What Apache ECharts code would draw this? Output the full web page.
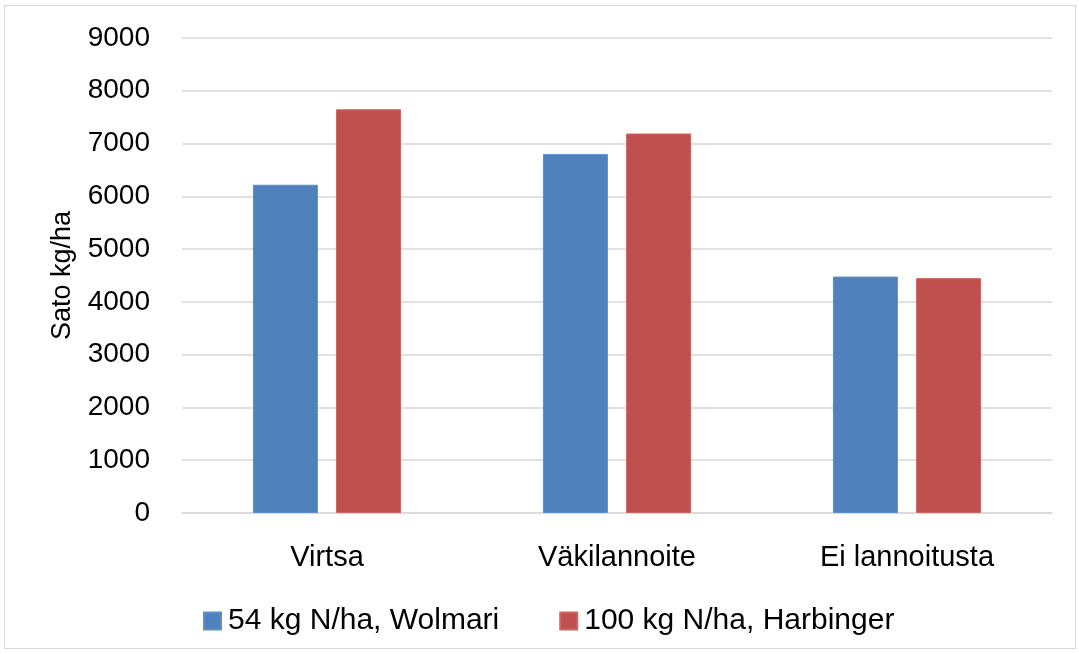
<!DOCTYPE html>
<html>
<head>
<meta charset="utf-8">
<script src="https://cdn.jsdelivr.net/npm/echarts@6/dist/echarts.min.js"></script>
<style>
html,body{margin:0;padding:0;background:#fff;}
#frame{position:absolute;left:4px;top:5px;width:1072px;height:644px;border:1px solid #d9d9d9;box-sizing:border-box;}
#chart{position:absolute;left:0;top:0;width:1079px;height:654px;}
</style>
</head>
<body>
<div id="frame"></div>
<div id="chart"></div>
<script>
const categories = ['Virtsa', 'Väkilannoite', 'Ei lannoitusta'];
const seriesNames = ['54 kg N/ha, Wolmari', '100 kg N/ha, Harbinger'];
const wolmari = [6220, 6800, 4480];
const harbinger = [7650, 7190, 4450];
const yAxisName = 'Sato kg/ha';

const FONT = 'Liberation Sans';
const chart = echarts.init(document.getElementById('chart'), null, {renderer: 'canvas'});
chart.setOption({
  backgroundColor: 'transparent',
  animation: false,
  grid: {left: 182, right: 27, top: 38, bottom: 141},
  legend: {
    data: seriesNames,
    top: 601,
    left: 198,
    icon: 'rect',
    itemWidth: 17,
    itemHeight: 17,
    itemGap: 60,
    textStyle: {fontFamily: FONT, fontSize: 30, color: '#000', padding: [0, 0, 0, 2]}
  },
  xAxis: {
    type: 'category',
    data: categories,
    axisLine: {lineStyle: {color: '#d9d9d9', width: 1.5}},
    axisTick: {show: false},
    axisLabel: {fontFamily: FONT, fontSize: 29, color: '#000', margin: 30}
  },
  yAxis: {
    type: 'value',
    min: 0, max: 9000, interval: 1000,
    name: yAxisName,
    nameLocation: 'middle',
    nameRotate: 90,
    nameGap: 106,
    nameTextStyle: {fontFamily: FONT, fontSize: 27, color: '#000'},
    axisLine: {show: false},
    axisTick: {show: false},
    axisLabel: {fontFamily: FONT, fontSize: 28, color: '#000', margin: 32, formatter: v => String(v)},
    splitLine: {lineStyle: {color: '#d9d9d9', width: 1.5}}
  },
  series: [
    {name: seriesNames[0], type: 'bar', data: wolmari, barWidth: 65, barGap: '28%',
     itemStyle: {color: '#4F81BD', borderColor: '#5b8fcc', borderWidth: 1}},
    {name: seriesNames[1], type: 'bar', data: harbinger, barWidth: 65,
     itemStyle: {color: '#C0504D', borderColor: '#d06460', borderWidth: 1}}
  ]
});
</script>
</body>
</html>
